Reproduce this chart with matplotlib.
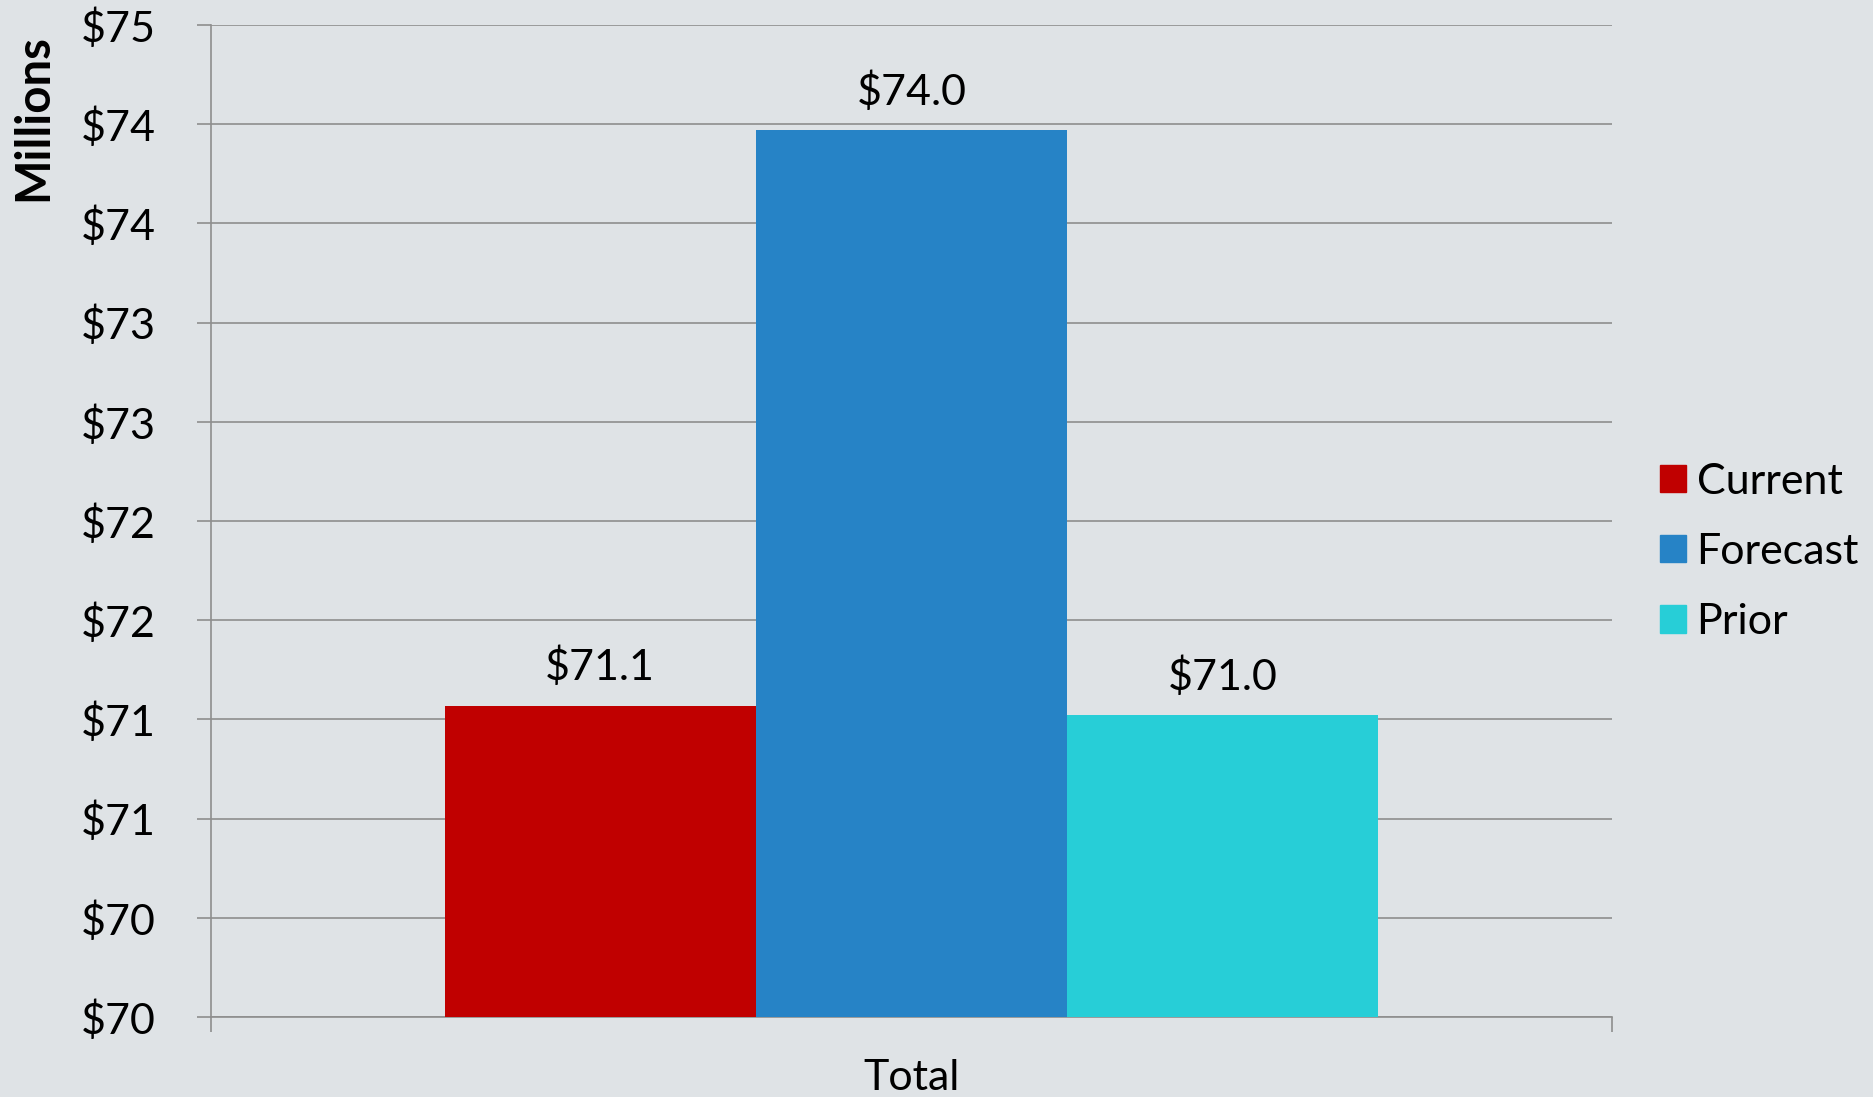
import matplotlib
matplotlib.use("Agg")
import matplotlib.pyplot as plt
from matplotlib.patches import Patch

# data (values in $ millions)
category = "Total"
series = ["Current", "Forecast", "Prior"]
values = [71.07, 73.97, 71.02]
colors = ["#C00000", "#2683C6", "#27CED7"]
yticks = [69.5, 70.0, 70.5, 71.0, 71.5, 72.0, 72.5, 73.0, 73.5, 74.0, 74.5]
ytick_labels = ["$70", "$70", "$71", "$71", "$72", "$72", "$73", "$73", "$74", "$74", "$75"]

bg = "#DFE3E6"
grid_col = "#8E8E8E"
plt.rcParams['font.family'] = ['Lato', 'DejaVu Sans']

fig = plt.figure(figsize=(18.74, 10.97), dpi=100, facecolor=bg)
ax = fig.add_axes([211 / 1874, 1 - 1017 / 1097, 1401 / 1874, 992 / 1097])
ax.set_facecolor(bg)

width = 1 / 4.5
offsets = [-width, 0, width]
for name, v, c, off in zip(series, values, colors, offsets):
    ax.bar(off, v - yticks[0], bottom=yticks[0], width=width, color=c, label=name, zorder=3)
    ax.annotate(f"${v:.1f}", (off, v), xytext=(0, 13), textcoords="offset points",
                ha="center", va="bottom", fontsize=31, color="black")

ax.set_xlim(-0.5, 0.5)
ax.set_ylim(yticks[0], yticks[-1])
ax.set_yticks(yticks)
ax.set_yticklabels(ytick_labels)
ax.set_xticks([-0.5, 0.5])
ax.set_xticklabels([])
ax.set_xticks([0], minor=True)
ax.set_xticklabels([category], minor=True)

ax.tick_params(axis="y", length=10, width=1.2, color=grid_col, labelsize=31, pad=30)
ax.tick_params(axis="x", which="major", length=11, width=1.2, color=grid_col)
ax.tick_params(axis="x", which="minor", length=0, labelsize=31, pad=30)

ax.grid(axis="y", color=grid_col, linewidth=1.2, zorder=0)
for s in ["top", "right"]:
    ax.spines[s].set_visible(False)
for s in ["left", "bottom"]:
    ax.spines[s].set_color(grid_col)
    ax.spines[s].set_linewidth(1.2)

fig.text(33 / 1874, 1 - 118 / 1097, "Millions", rotation=90, ha="center", va="center",
         fontsize=34, fontweight="bold")

handles = [Patch(color=c, label=n) for n, c in zip(series, colors)]
fig.legend(handles=handles, loc="center left", bbox_to_anchor=(1660 / 1874, 1 - 552 / 1097),
           frameon=False, fontsize=31, handlelength=0.6, handleheight=0.6,
           handletextpad=0.25, labelspacing=0.75, borderaxespad=0, borderpad=0)

fig.savefig("out.png", dpi=100, facecolor=bg)
